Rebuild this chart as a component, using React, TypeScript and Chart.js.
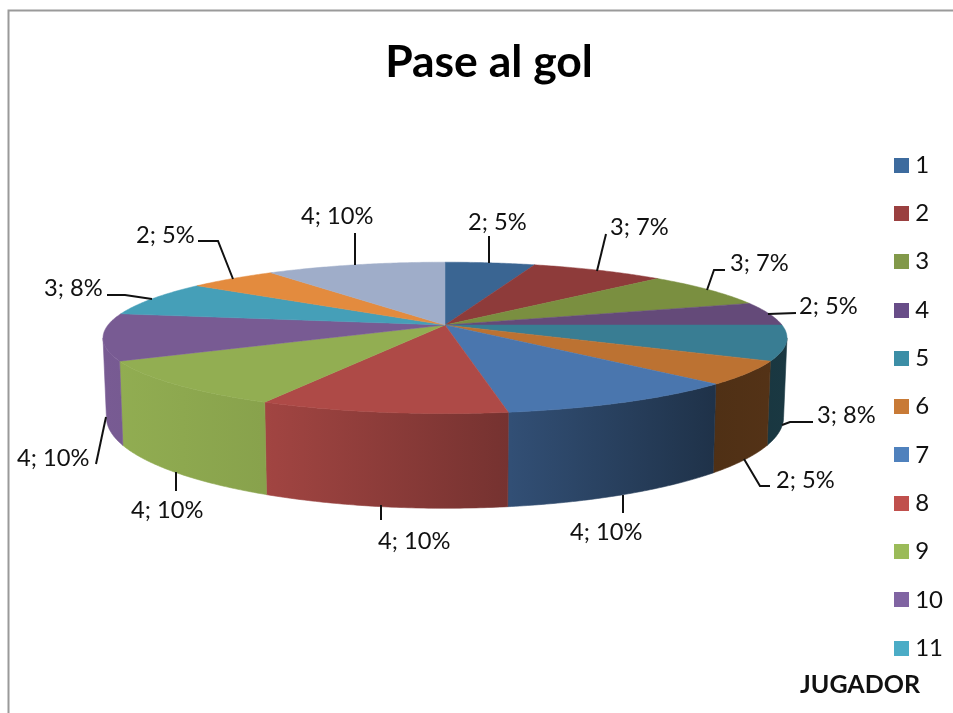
import React, { useEffect, useRef } from "react";
import { Chart, registerables } from "chart.js";

Chart.register(...registerables);

const players = ["1", "2", "3", "4", "5", "6", "7", "8", "9", "10", "11", "12", "13"];
const goalPasses = [2, 3, 3, 2, 3, 2, 4, 4, 4, 4, 3, 2, 4];
const percentLabels = ["5%", "7%", "7%", "5%", "8%", "5%", "10%", "10%", "10%", "10%", "8%", "5%", "10%"];
const legendColors = ["#3D6B9E", "#9A4040", "#82994A", "#684D88", "#3C8EA6", "#C87A36", "#4F81BD", "#C0504D", "#9BBB59", "#8064A2", "#4BACC6", "#F79646", "#A3B3D0"];
const topColors = ["#3A6592", "#8E3B3A", "#7A8F40", "#644A79", "#397D93", "#BC7232", "#4A76AE", "#AE4A47", "#92AE52", "#785B93", "#459FB8", "#E38B3E", "#9FADC9"];

const FONT = "Lato";
const pie = { cx: 445, cy: 325, rx: 337, ry: 73.5, k: 0.17, drop: 77, bottomScaleX: 0.99, bottomScaleY: 1.2 };
const lightStops: [number, number][] = [[103, 1], [263, 0.93], [510, 0.67], [714, 0.42], [790, 0.45]];

// Label text anchor (left, middle) and its leader polyline, by slice.
const labelLayout: { x: number; y: number; line: [number, number][] }[] = [
  { x: 468, y: 222, line: [[489, 236], [489, 263]] },
  { x: 610, y: 227, line: [[606, 234], [597, 271]] },
  { x: 730, y: 263, line: [[725, 270], [714, 270], [707, 290]] },
  { x: 799, y: 306, line: [[796, 313], [768, 314]] },
  { x: 817, y: 415, line: [[813, 422], [790, 422], [782, 425]] },
  { x: 776, y: 480, line: [[770, 486], [760, 486], [744, 459]] },
  { x: 570, y: 532, line: [[623, 513], [623, 495]] },
  { x: 378, y: 541, line: [[381, 520], [381, 505]] },
  { x: 131, y: 510, line: [[176, 491], [176, 472]] },
  { x: 17, y: 458, line: [[96, 464], [106, 417]] },
  { x: 44, y: 288, line: [[107, 295], [125, 295], [152, 299]] },
  { x: 136, y: 235, line: [[198, 241], [218, 241], [233, 279]] },
  { x: 301, y: 216, line: [[355, 233], [355, 265]] },
];

function topPoint(t: number): [number, number] {
  const u = Math.sin(t);
  const v = -Math.cos(t);
  const w = 1 / (1 - pie.k * v);
  return [pie.cx + pie.rx * u * w, pie.cy + pie.ry * v * w];
}

function bottomPoint(t: number): [number, number] {
  const [x, y] = topPoint(t);
  return [pie.cx + pie.bottomScaleX * (x - pie.cx), pie.cy + pie.drop + pie.bottomScaleY * (y - pie.cy)];
}

function shade(hex: string, f: number): string {
  const n = parseInt(hex.slice(1), 16);
  const c = [(n >> 16) & 255, (n >> 8) & 255, n & 255].map((a) => Math.round(a * f));
  return `rgb(${c[0]},${c[1]},${c[2]})`;
}

function swatch(color: string): HTMLCanvasElement {
  const c = document.createElement("canvas");
  c.width = 15;
  c.height = 15;
  const g = c.getContext("2d")!;
  g.fillStyle = color;
  g.fillRect(0, 0, 15, 15);
  return c;
}

const pie3d = {
  id: "pie3d",
  beforeDraw(chart: any) {
    const ctx = chart.ctx;
    ctx.save();
    ctx.strokeStyle = "#9A9A9A";
    ctx.lineWidth = 2;
    ctx.beginPath();
    ctx.moveTo(8.5, 713);
    ctx.lineTo(8.5, 10.5);
    ctx.lineTo(953, 10.5);
    ctx.stroke();
    ctx.restore();
  },
  beforeDatasetDraw(chart: any, args: any) {
    const ctx = chart.ctx;
    const arcs = chart.getDatasetMeta(args.index).data;
    const sideStart = Math.acos(-pie.k);
    const sideEnd = 2 * Math.PI - sideStart;
    const sample = (a: number, b: number) => {
      const n = Math.max(2, Math.ceil((b - a) / 0.01));
      return Array.from({ length: n + 1 }, (_, i) => a + ((b - a) * i) / n);
    };
    ctx.save();
    arcs.forEach((arc: any, i: number) => {
      const s = Math.max(arc.startAngle + Math.PI / 2, sideStart);
      const e = Math.min(arc.endAngle + Math.PI / 2, sideEnd);
      if (e <= s) return;
      const ts = sample(s, e);
      const first = lightStops[0][0];
      const last = lightStops[lightStops.length - 1][0];
      const grad = ctx.createLinearGradient(first, 0, last, 0);
      lightStops.forEach(([x, f]) => grad.addColorStop((x - first) / (last - first), shade(topColors[i], f)));
      ctx.beginPath();
      ts.forEach((t, j) => {
        const p = topPoint(t);
        if (j === 0) ctx.moveTo(p[0], p[1]);
        else ctx.lineTo(p[0], p[1]);
      });
      ts.slice().reverse().forEach((t) => {
        const p = bottomPoint(t);
        ctx.lineTo(p[0], p[1]);
      });
      ctx.closePath();
      ctx.fillStyle = grad;
      ctx.strokeStyle = grad;
      ctx.lineWidth = 0.6;
      ctx.fill();
      ctx.stroke();
    });
    arcs.forEach((arc: any, i: number) => {
      const ts = sample(arc.startAngle + Math.PI / 2, arc.endAngle + Math.PI / 2);
      ctx.beginPath();
      ctx.moveTo(pie.cx, pie.cy);
      ts.forEach((t) => {
        const p = topPoint(t);
        ctx.lineTo(p[0], p[1]);
      });
      ctx.closePath();
      ctx.fillStyle = topColors[i];
      ctx.strokeStyle = topColors[i];
      ctx.lineWidth = 0.5;
      ctx.fill();
      ctx.stroke();
    });
    ctx.restore();
    return false;
  },
  afterDraw(chart: any) {
    const ctx = chart.ctx;
    ctx.save();
    ctx.strokeStyle = "#111";
    ctx.lineWidth = 2;
    labelLayout.forEach((l) => {
      ctx.beginPath();
      l.line.forEach(([x, y], j) => (j === 0 ? ctx.moveTo(x, y) : ctx.lineTo(x, y)));
      ctx.stroke();
    });
    ctx.fillStyle = "#111";
    ctx.textBaseline = "middle";
    ctx.textAlign = "left";
    ctx.font = `23.7px ${FONT}`;
    goalPasses.forEach((v, i) => {
      ctx.fillText(`${v}; ${percentLabels[i]}`, labelLayout[i].x, labelLayout[i].y);
    });
    ctx.font = `bold 25px ${FONT}`;
    ctx.textAlign = "right";
    ctx.fillText("JUGADOR", 920, 685);
    ctx.restore();
  },
};

export default function App() {
  const ref = useRef<HTMLCanvasElement>(null);
  useEffect(() => {
    const chart = new Chart(ref.current!, {
      type: "pie",
      data: {
        labels: players,
        datasets: [{ data: goalPasses, backgroundColor: legendColors, borderWidth: 0 }],
      },
      options: {
        animation: false,
        responsive: false,
        layout: { padding: { left: 25, right: 0 } },
        plugins: {
          title: {
            display: true,
            text: "Pase al gol",
            color: "#000",
            font: { family: FONT, size: 44.5, weight: "bold" },
            padding: { top: 36, bottom: 30 },
          },
          tooltip: { enabled: false },
          legend: {
            position: "right",
            align: "start",
            title: {
              display: true,
              text: " ",
              font: { family: FONT, size: 24 },
              padding: { top: 0, bottom: 100 },
            },
            labels: {
              color: "#111",
              font: { family: FONT, size: 24 },
              padding: 24.3,
              usePointStyle: true,
              pointStyleWidth: 3,
              boxHeight: 15,
              generateLabels: (c: any) =>
                (Chart as any).overrides.pie.plugins.legend.labels
                  .generateLabels(c)
                  .slice(0, 11)
                  .map((it: any) => ({ ...it, pointStyle: swatch(it.fillStyle) })),
            },
          },
        },
      },
      plugins: [pie3d],
    } as any);
    return () => chart.destroy();
  }, []);
  return (
    <div style={{ position: "absolute", left: 0, top: 0 }}>
      <canvas ref={ref} width={953} height={713} style={{ display: "block" }} />
    </div>
  );
}
